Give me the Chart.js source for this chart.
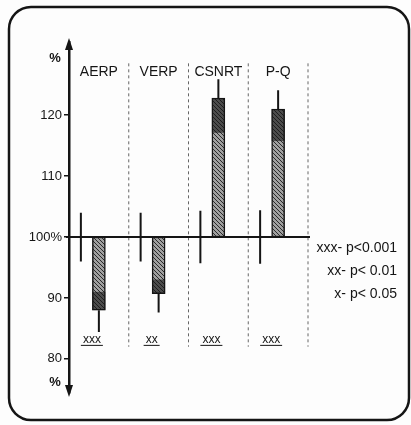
<!DOCTYPE html>
<html>
<head>
<meta charset="utf-8">
<script src="https://cdn.jsdelivr.net/npm/chart.js@4.4.1/dist/chart.umd.min.js"></script>
<style>
  html, body { margin: 0; padding: 0; background: #fdfdfd; }
  #wrap { width: 411px; height: 425px; }
</style>
</head>
<body>
<div id="wrap"><canvas id="grafico"></canvas></div>
<script>
// datos
const categorias = ["AERP", "VERP", "CSNRT", "P-Q"];
const valores = [88, 90.7, 122.8, 121];
const errValores = [3.6, 3.1, 3.1, 3.1];
const errControl = [4, 4, 4.3, 4.4];
const signif = ["xxx", "xx", "xxx", "xxx"];
const ticksY = [80, 90, 100, 110, 120];
const leyenda = ["xxx- p<0.001", "xx- p< 0.01", "x- p< 0.05"];

const TINTA = "#151515";
const FUENTE = "'Liberation Sans', Arial, sans-serif";

// rayado de las barras
function rayado() {
  const c = document.createElement("canvas");
  c.width = 4; c.height = 4;
  const g = c.getContext("2d");
  g.fillStyle = "#a0a0a0";
  g.fillRect(0, 0, 4, 4);
  g.strokeStyle = "#2a2a2a";
  g.lineWidth = 1;
  g.beginPath();
  g.moveTo(0, 0); g.lineTo(4, 4);
  g.moveTo(-1, 3); g.lineTo(1, 5);
  g.moveTo(3, -1); g.lineTo(5, 1);
  g.stroke();
  return g.createPattern(c, "repeat");
}

const dibujos = {
  id: "dibujos",
  afterDatasetsDraw(chart) {
    // punta mas oscura de cada barra
    const ctx = chart.ctx;
    const y = chart.scales.y;
    ctx.save();
    chart.getDatasetMeta(0).data.forEach((bar, i) => {
      const punta = y.getPixelForValue(valores[i]);
      const base = y.getPixelForValue(100);
      const tramo = (base - punta) * 0.25;
      ctx.fillStyle = "rgba(20,20,20,0.6)";
      ctx.fillRect(bar.x - bar.width / 2, Math.min(punta, punta + tramo), bar.width, Math.abs(tramo));
    });
    ctx.restore();
  },
  afterDraw(chart) {
    const ctx = chart.ctx;
    const x = chart.scales.x;
    const y = chart.scales.y;
    const area = chart.chartArea;
    const ancho = x.width / categorias.length;
    ctx.save();

    // marco redondeado
    ctx.strokeStyle = TINTA;
    ctx.lineWidth = 2.5;
    ctx.beginPath();
    ctx.roundRect(9, 7, 400, 413, 22);
    ctx.stroke();

    // flechas del eje y
    const ax = area.left;
    ctx.fillStyle = TINTA;
    ctx.beginPath();
    ctx.moveTo(ax, area.top - 4);
    ctx.lineTo(ax - 4, area.top + 8);
    ctx.lineTo(ax + 4, area.top + 8);
    ctx.closePath();
    ctx.fill();
    ctx.beginPath();
    ctx.moveTo(ax, area.bottom + 4);
    ctx.lineTo(ax - 4, area.bottom - 8);
    ctx.lineTo(ax + 4, area.bottom - 8);
    ctx.closePath();
    ctx.fill();

    ctx.font = "bold 13px " + FUENTE;
    ctx.textAlign = "center";
    ctx.textBaseline = "middle";
    ctx.fillText("%", ax - 14, y.getPixelForValue(129.3));
    ctx.fillText("%", ax - 14, y.getPixelForValue(76.1));

    // separadores punteados
    ctx.strokeStyle = "#666";
    ctx.lineWidth = 1;
    ctx.setLineDash([3, 3]);
    for (let i = 0; i < categorias.length; i++) {
      const bx = x.getPixelForValue(i) + ancho / 2;
      ctx.beginPath();
      ctx.moveTo(bx, y.getPixelForValue(128.5));
      ctx.lineTo(bx, y.getPixelForValue(82));
      ctx.stroke();
    }
    ctx.setLineDash([]);

    // linea del 100%
    const y100 = y.getPixelForValue(100);
    ctx.strokeStyle = TINTA;
    ctx.lineWidth = 2;
    ctx.beginPath();
    ctx.moveTo(ax - 3, y100);
    ctx.lineTo(area.right + 2, y100);
    ctx.stroke();

    // barras de error
    ctx.lineWidth = 2;
    categorias.forEach((c, i) => {
      const cx = x.getPixelForValue(i);
      const ctrlX = cx - 18;
      ctx.beginPath();
      ctx.moveTo(ctrlX, y.getPixelForValue(100 + errControl[i]));
      ctx.lineTo(ctrlX, y.getPixelForValue(100 - errControl[i]));
      const v = valores[i];
      const fin = v < 100 ? v - errValores[i] : v + errValores[i];
      ctx.moveTo(cx, y.getPixelForValue(v));
      ctx.lineTo(cx, y.getPixelForValue(fin));
      ctx.stroke();
    });

    // nombres de categorias
    ctx.fillStyle = TINTA;
    ctx.font = "14px " + FUENTE;
    ctx.textAlign = "center";
    ctx.textBaseline = "middle";
    categorias.forEach((c, i) => {
      ctx.fillText(c, x.getPixelForValue(i), y.getPixelForValue(127));
    });

    // significancia subrayada
    ctx.font = "12px " + FUENTE;
    ctx.lineWidth = 1;
    signif.forEach((s, i) => {
      const sx = x.getPixelForValue(i) - 7;
      const sy = y.getPixelForValue(83.2);
      ctx.fillText(s, sx, sy);
      const w = ctx.measureText(s).width;
      ctx.beginPath();
      ctx.moveTo(sx - w / 2 - 2, sy + 6);
      ctx.lineTo(sx + w / 2 + 2, sy + 6);
      ctx.stroke();
    });

    // leyenda de p
    ctx.font = "14px " + FUENTE;
    ctx.textAlign = "right";
    leyenda.forEach((t, i) => {
      ctx.fillText(t, 397, y100 + 11 + i * 23);
    });

    ctx.restore();
  },
};

new Chart(document.getElementById("grafico"), {
  type: "bar",
  data: {
    labels: categorias,
    datasets: [
      {
        label: "tratamiento",
        data: valores.map((v) => [100, v]),
        backgroundColor: rayado(),
        borderColor: TINTA,
        borderWidth: 1.5,
        borderSkipped: false,
        barThickness: 13,
      },
    ],
  },
  options: {
    responsive: true,
    maintainAspectRatio: false,
    animation: false,
    layout: { padding: { left: 0, right: 103, top: 42, bottom: 32 } },
    plugins: {
      legend: { display: false },
      tooltip: { enabled: false },
    },
    scales: {
      x: { display: false, offset: true },
      y: {
        min: 74.4,
        max: 132,
        afterBuildTicks: (scale) => {
          scale.ticks = ticksY.map((v) => ({ value: v }));
        },
        afterFit: (scale) => {
          scale.width = 69;
        },
        ticks: {
          color: TINTA,
          padding: 2,
          font: { size: 13, family: FUENTE },
          callback: (v) => (v === 100 ? "100%" : v),
        },
        grid: {
          drawOnChartArea: false,
          tickLength: 5,
          color: TINTA,
          lineWidth: 1.5,
        },
        border: { display: true, color: TINTA, width: 2.5 },
      },
    },
  },
  plugins: [dibujos],
});
</script>
</body>
</html>
